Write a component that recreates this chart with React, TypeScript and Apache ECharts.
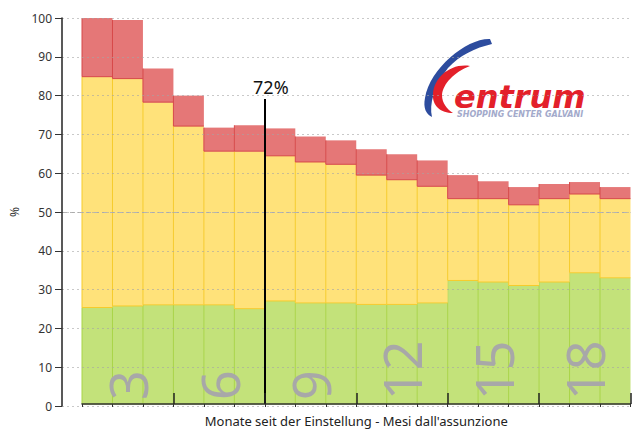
import React, { useEffect, useRef } from "react";
import * as echarts from "echarts";

// ---- data ----
const months = [1, 2, 3, 4, 5, 6, 7, 8, 9, 10, 11, 12, 13, 14, 15, 16, 17, 18];
// cumulative levels (%) at the top of each coloured band
const greenLevel = [25.0, 25.4, 25.7, 25.7, 25.7, 24.7, 26.7, 26.2, 26.2, 25.8, 25.8, 26.2, 32.0, 31.6, 30.7, 31.6, 34.0, 32.7];
const yellowLevel = [84.8, 84.3, 78.2, 72.0, 65.5, 65.5, 64.3, 62.7, 62.1, 59.3, 58.1, 56.4, 53.2, 53.2, 51.6, 53.2, 54.4, 53.2];
const redLevel = [100, 99.5, 86.9, 79.9, 71.6, 72.2, 71.4, 69.3, 68.3, 66.0, 64.7, 63.1, 59.3, 57.7, 56.2, 57.0, 57.5, 56.2];
const zeroLevel = months.map(() => 0);
const quarterLabels = ["3", "6", "9", "12", "15", "18"];
const quarterTicks = [3, 6, 9, 12, 15, 18];
const referenceLevel = 50;
const markerMonth = 6;
const markerTop = 79;
const markerLabel = "72%";
const xTitle = "Monate seit der Einstellung - Mesi dall'assunzione";
const yTitle = "%";

echarts.graphic.registerShape(
  "blueSwoosh",
  echarts.graphic.extendPath(
    "M 490 39 C 467 38 430 68 425 98 C 423 108 426 114 432 117 C 429 104 434 86 448 68 C 460 55 475 48 492 44 Z",
    {}
  )
);
echarts.graphic.registerShape(
  "redC",
  echarts.graphic.extendPath(
    "M 470 66 C 450 63 434 78 433 94 C 432 106 441 113 453 113 C 447 109 442 103 442 95 C 443 84 454 72 470 66 Z",
    {}
  )
);

function bandSeries(name: string, low: number[], high: number[], fill: string, stroke: string) {
  return {
    type: "custom",
    name,
    xAxisIndex: 0,
    yAxisIndex: 1,
    z: 2,
    silent: true,
    data: months.map((m, i) => [m - 1, m, low[i], high[i]]),
    encode: { x: [0, 1], y: [2, 3] },
    renderItem: (_params: any, api: any) => {
      const p0 = api.coord([api.value(0), api.value(3)]);
      const p1 = api.coord([api.value(1), api.value(2)]);
      return {
        type: "group",
        children: [
          {
            type: "rect",
            shape: { x: p0[0], y: p0[1], width: p1[0] - p0[0], height: p1[1] - p0[1] },
            style: { fill },
          },
          {
            type: "polyline",
            shape: { points: [[p0[0], p0[1]], [p0[0], p1[1]], [p1[0], p1[1]]] },
            style: { fill: "none", stroke, lineWidth: 1 },
          },
        ],
      };
    },
  };
}

export default function App() {
  const ref = useRef<HTMLDivElement>(null);
  useEffect(() => {
    document.body.style.margin = "0";
    const chart = echarts.init(ref.current!, null, { renderer: "svg" });
    const font = '"Noto Sans", "DejaVu Sans", sans-serif';
    const option: any = {
      animation: false,
      textStyle: { fontFamily: font },
      grid: [
        { left: 61, right: 1.5, top: 18, bottom: 26 },
        { left: 82, right: 1.5, top: 18, bottom: 26 },
      ],
      xAxis: [
        {
          type: "value",
          gridIndex: 1,
          position: "bottom",
          min: 0,
          max: 18,
          interval: 1,
          z: 10,
          name: xTitle,
          nameLocation: "middle",
          nameGap: 10,
          nameTextStyle: { fontSize: 13, color: "#222", verticalAlign: "top" },
          axisLine: { show: true, lineStyle: { color: "#333", width: 1.5 } },
          axisTick: { show: true, inside: false, length: 3, lineStyle: { color: "#333" } },
          axisLabel: { show: false },
          splitLine: { show: false },
        },
        {
          type: "value",
          gridIndex: 1,
          position: "bottom",
          min: 0,
          max: 18,
          interval: 3,
          z: 10,
          axisLine: { show: false },
          axisTick: { show: true, inside: true, length: 11, customValues: quarterTicks, lineStyle: { color: "#222", width: 1.5 } },
          axisLabel: { show: false },
          splitLine: { show: false },
        },
        {
          type: "category",
          gridIndex: 1,
          position: "bottom",
          data: quarterLabels,
          boundaryGap: true,
          z: 9,
          axisLine: { show: false },
          axisTick: { show: false },
          splitLine: { show: false },
          axisLabel: {
            inside: true,
            rotate: 90,
            margin: 4,
            fontSize: 52,
            color: "#a8a8a8",
            fontFamily: font,
          },
        },
        {
          type: "value",
          gridIndex: 0,
          min: 0,
          max: 1,
          show: false,
        },
      ],
      yAxis: [
        {
          type: "value",
          gridIndex: 0,
          min: 0,
          max: 100,
          interval: 10,
          z: 10,
          name: yTitle,
          nameLocation: "middle",
          nameGap: 42,
          nameTextStyle: { fontSize: 12, color: "#333" },
          axisLine: { show: true, lineStyle: { color: "#222", width: 1.5 } },
          axisTick: { show: true, inside: false, length: 7, lineStyle: { color: "#333" } },
          axisLabel: { fontSize: 12, color: "#333", margin: 10 },
          splitLine: { show: true, lineStyle: { type: [2, 3], color: "rgba(165,165,165,0.6)", width: 1 } },
        },
        {
          type: "value",
          gridIndex: 1,
          min: 0,
          max: 100,
          show: false,
        },
      ],
      series: [
        bandSeries("green", zeroLevel, greenLevel, "#C3E27A", "#A9D447"),
        bandSeries("yellow", greenLevel, yellowLevel, "#FFE27A", "#F6CB2B"),
        bandSeries("red", yellowLevel, redLevel, "#E57777", "#D64848"),
        {
          type: "line",
          xAxisIndex: 3,
          yAxisIndex: 0,
          data: [],
          z: 12,
          silent: true,
          markLine: {
            silent: true,
            symbol: "none",
            label: { show: false },
            lineStyle: { type: [5, 3], color: "#b4b4b4", width: 1 },
            data: [{ yAxis: referenceLevel }],
          },
        },
        {
          type: "line",
          xAxisIndex: 0,
          yAxisIndex: 1,
          data: [],
          z: 13,
          silent: true,
          markLine: {
            silent: true,
            symbol: "none",
            lineStyle: { type: "solid", color: "#000", width: 2 },
            label: {
              show: true,
              position: "end",
              formatter: markerLabel,
              fontSize: 18,
              color: "#111",
              distance: 3,
              offset: [6, 0],
              fontFamily: font,
            },
            data: [[{ coord: [markerMonth, 0] }, { coord: [markerMonth, markerTop] }]],
          },
        },
      ],
      graphic: [
        {
          type: "group",
          z: 100,
          children: [
            { type: "rect", shape: { x: 420, y: 38, width: 171, height: 80 }, style: { fill: "#fff" } },
            { type: "blueSwoosh", x: 0, y: 0, style: { fill: "#2D4C9E" } },
            { type: "redC", x: 0, y: 0, style: { fill: "#E3202A" } },
            {
              type: "text",
              x: 454,
              y: 97,
              style: {
                text: "entrum",
                font: 'italic bold 32px "DejaVu Sans"',
                fill: "#E3202A",
                verticalAlign: "middle",
                lineHeight: 24,
              },
            },
            {
              type: "text",
              x: 457,
              y: 114,
              style: {
                text: "SHOPPING CENTER GALVANI",
                font: 'italic bold 8px "DejaVu Sans"',
                fill: "#A3AACB",
                verticalAlign: "middle",
              },
            },
          ],
        },
      ],
    };
    chart.setOption(option);
    return () => chart.dispose();
  }, []);
  return <div ref={ref} style={{ width: 632, height: 432 }} />;
}
